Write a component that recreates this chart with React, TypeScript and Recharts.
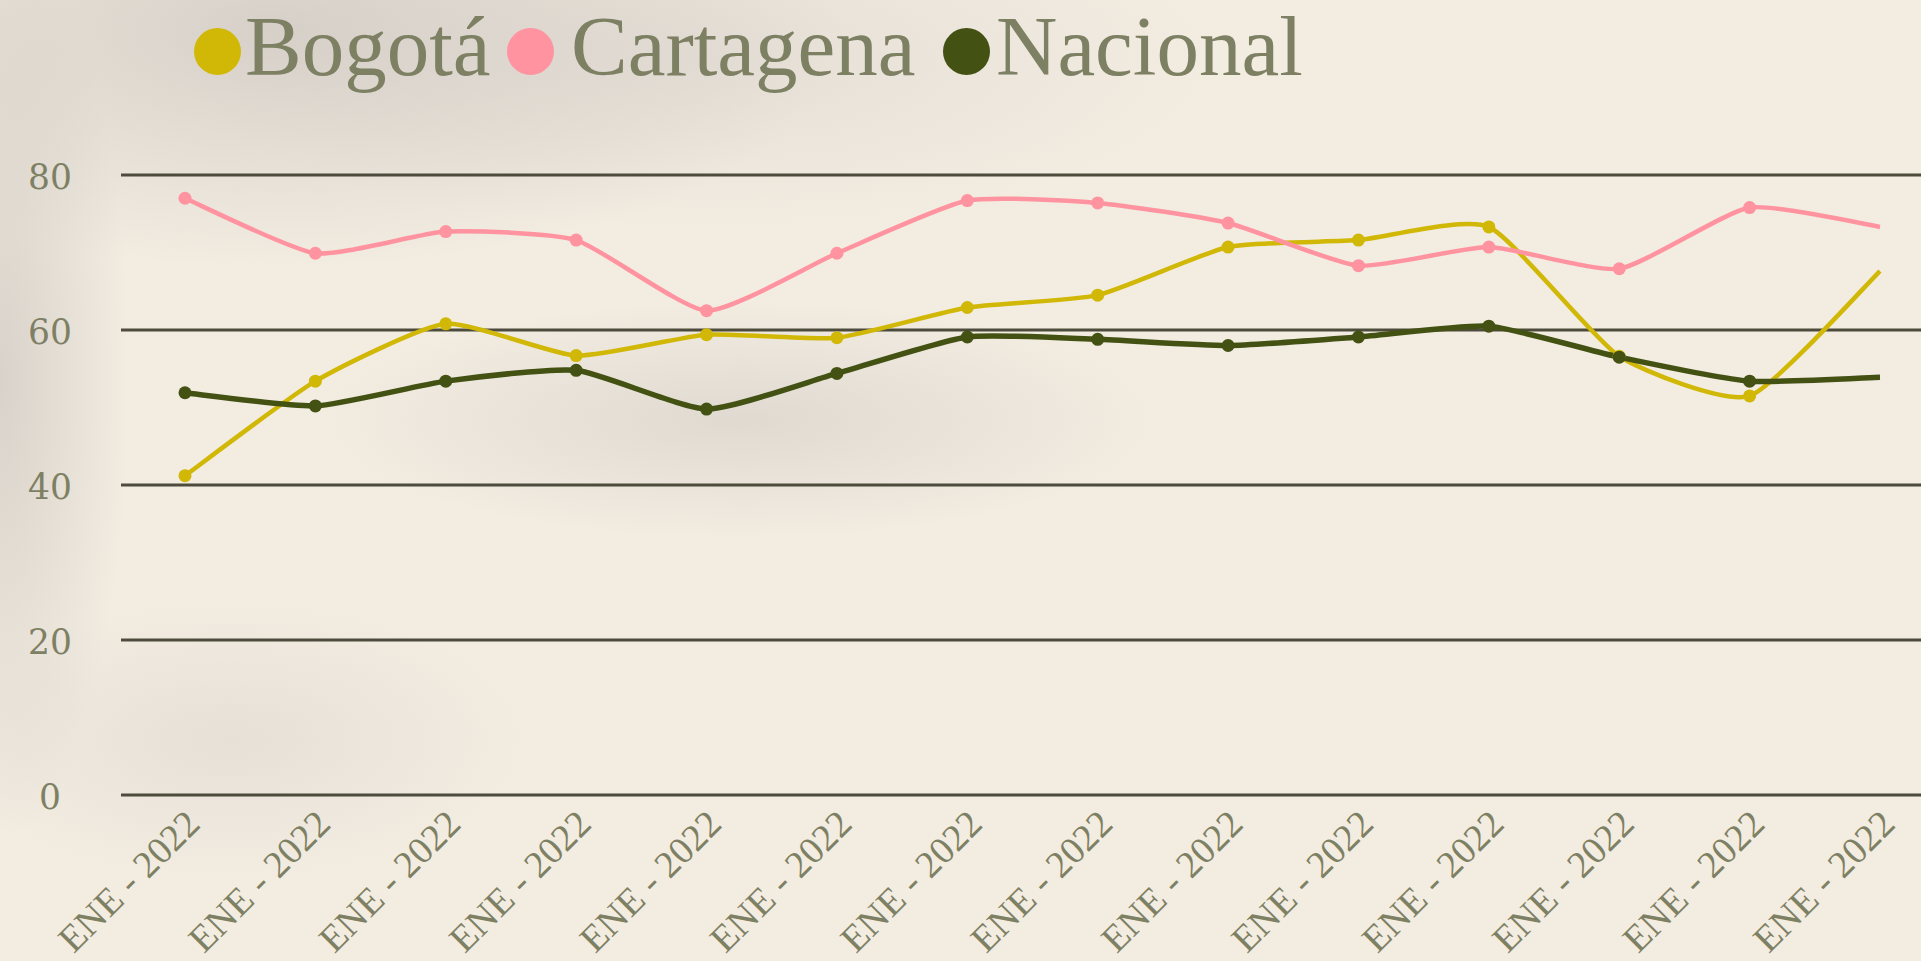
import React from 'react';
import { LineChart, Line, XAxis, YAxis, CartesianGrid, Legend } from 'recharts';

const categories = [
  'ENE - 2022', 'ENE - 2022', 'ENE - 2022', 'ENE - 2022', 'ENE - 2022', 'ENE - 2022', 'ENE - 2022',
  'ENE - 2022', 'ENE - 2022', 'ENE - 2022', 'ENE - 2022', 'ENE - 2022', 'ENE - 2022', 'ENE - 2022',
];
const bogota = [41.2, 53.4, 60.8, 56.7, 59.4, 59.0, 62.9, 64.5, 70.7, 71.6, 73.3, 56.6, 51.5, 67.6];
const cartagena = [77.0, 69.9, 72.7, 71.6, 62.5, 69.9, 76.7, 76.4, 73.8, 68.3, 70.7, 67.9, 75.8, 73.3];
const nacional = [51.9, 50.2, 53.4, 54.8, 49.8, 54.4, 59.1, 58.8, 58.0, 59.1, 60.5, 56.5, 53.4, 53.9];
const yTicks = [0, 20, 40, 60, 80];

const seriesNames = ['Bogotá', 'Cartagena', 'Nacional'];
const seriesColors = ['#d1b807', '#ff93a0', '#435113'];

const data = categories.map((c, i) => ({
  name: c,
  bogota: bogota[i],
  cartagena: cartagena[i],
  nacional: nacional[i],
}));

const TEXT_COLOR = '#7e8063';

// Cardinal curve factory with tension
const makeCardinal = (tension: number) => (context: any) => {
  let pts: [number, number][] = [];
  const k = (1 - tension) / 6;
  return {
    areaStart() {},
    areaEnd() {},
    lineStart() {
      pts = [];
    },
    point(x: number, y: number) {
      pts.push([+x, +y]);
    },
    lineEnd() {
      const n = pts.length;
      if (!n) return;
      context.moveTo(pts[0][0], pts[0][1]);
      if (n === 1) return;
      for (let i = 0; i < n - 1; i++) {
        const p0 = pts[i - 1] || pts[i];
        const p1 = pts[i];
        const p2 = pts[i + 1];
        const p3 = pts[i + 2] || pts[i + 1];
        context.bezierCurveTo(
          p1[0] + k * (p2[0] - p0[0]),
          p1[1] + k * (p2[1] - p0[1]),
          p2[0] - k * (p3[0] - p1[0]),
          p2[1] - k * (p3[1] - p1[1]),
          p2[0],
          p2[1]
        );
      }
    },
  };
};
const smoothCurve = makeCardinal(0.45);

const makeDot = (color: string) => (props: any) => {
  const { cx, cy, index } = props;
  if (index === categories.length - 1 || cx == null || cy == null) {
    return <g key={`d-${color}-${index}`} />;
  }
  return <circle key={`d-${color}-${index}`} cx={cx} cy={cy} r={6.5} fill={color} stroke="none" />;
};

const XTick = (props: any) => {
  const { x, payload } = props;
  const ax = x + 17;
  const ay = 826;
  return (
    <text
      x={ax}
      y={ay}
      textAnchor="end"
      transform={`rotate(-45, ${ax}, ${ay})`}
      fill={TEXT_COLOR}
      fontFamily="'Liberation Serif', serif"
      fontSize={38}
    >
      {payload.value}
    </text>
  );
};

const YTick = (props: any) => {
  const { y, payload } = props;
  return (
    <text
      x={50}
      y={y + 14}
      textAnchor="middle"
      fill={TEXT_COLOR}
      fontFamily="'DejaVu Serif', serif"
      fontSize={34.5}
    >
      {payload.value}
    </text>
  );
};

const dotLefts = [194, 507, 943];
const textLefts = [245, 571, 996];

const LegendContent = () => (
  <div style={{ position: 'relative', width: 1921, height: 110 }}>
    {seriesNames.map((n, i) => (
      <React.Fragment key={n}>
        <span
          style={{
            position: 'absolute',
            left: dotLefts[i],
            top: 28,
            width: 47,
            height: 47,
            borderRadius: '50%',
            background: seriesColors[i],
          }}
        />
        <span
          style={{
            position: 'absolute',
            left: textLefts[i],
            top: 4,
            fontFamily: "'Liberation Serif', serif",
            fontSize: 85,
            lineHeight: '84px',
            color: TEXT_COLOR,
            whiteSpace: 'nowrap',
          }}
        >
          {n}
        </span>
      </React.Fragment>
    ))}
  </div>
);

export default function App() {
  return (
    <div
      style={{
        position: 'absolute',
        top: 0,
        left: 0,
        width: 1921,
        height: 961,
        overflow: 'hidden',
        backgroundColor: '#f2ece1',
        backgroundImage: [
          'radial-gradient(ellipse 560px 240px at 280px 30px, rgba(205,199,193,0.75), rgba(205,199,193,0))',
          'radial-gradient(ellipse 420px 120px at 740px 420px, rgba(208,202,196,0.55), rgba(208,202,196,0))',
          'radial-gradient(ellipse 130px 460px at 0px 380px, rgba(205,199,193,0.7), rgba(205,199,193,0))',
          'radial-gradient(ellipse 300px 140px at 230px 740px, rgba(215,209,203,0.45), rgba(215,209,203,0))',
          'radial-gradient(ellipse 520px 170px at 700px 60px, rgba(215,209,203,0.5), rgba(215,209,203,0))',
        ].join(','),
      }}
    >
      <LineChart
        width={1921}
        height={961}
        data={data}
        margin={{ top: 175, right: 0, left: 0, bottom: 0 }}
      >
        <CartesianGrid horizontal vertical={false} stroke="#4d4b3b" strokeWidth={3} />
        <XAxis
          dataKey="name"
          height={166}
          interval={0}
          axisLine={false}
          tickLine={false}
          padding={{ left: 64, right: 41 }}
          tick={<XTick />}
        />
        <YAxis
          width={121}
          domain={[0, 80]}
          ticks={yTicks}
          axisLine={false}
          tickLine={false}
          tick={<YTick />}
        />
        <Legend
          layout="horizontal"
          verticalAlign="middle"
          align="center"
          wrapperStyle={{ top: 0, left: 0, width: 1921, height: 110 }}
          content={<LegendContent />}
        />
        <Line
          dataKey="bogota"
          name={seriesNames[0]}
          type={smoothCurve as any}
          stroke={seriesColors[0]}
          strokeWidth={4.5}
          dot={makeDot(seriesColors[0])}
          activeDot={false}
          isAnimationActive={false}
        />
        <Line
          dataKey="cartagena"
          name={seriesNames[1]}
          type={smoothCurve as any}
          stroke={seriesColors[1]}
          strokeWidth={4.5}
          dot={makeDot(seriesColors[1])}
          activeDot={false}
          isAnimationActive={false}
        />
        <Line
          dataKey="nacional"
          name={seriesNames[2]}
          type={smoothCurve as any}
          stroke={seriesColors[2]}
          strokeWidth={5.5}
          dot={makeDot(seriesColors[2])}
          activeDot={false}
          isAnimationActive={false}
        />
      </LineChart>
    </div>
  );
}
